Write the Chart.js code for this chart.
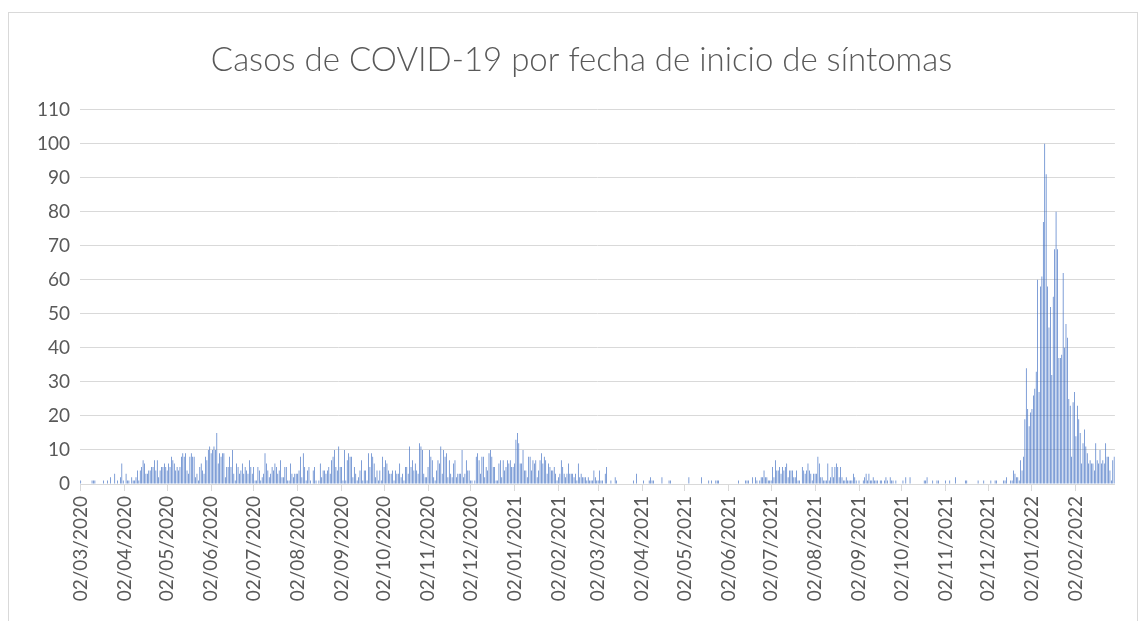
<!DOCTYPE html>
<html>
<head>
<meta charset="utf-8">
<script src="https://cdn.jsdelivr.net/npm/chart.js@4.4.1/dist/chart.umd.min.js"></script>
<style>
  html, body { margin: 0; padding: 0; background: #fff; }
  #frame { position: absolute; left: 8px; top: 12px; width: 1130px; height: 640px; border: 1px solid #d9d9d9; box-sizing: border-box; }
  #chart { position: absolute; left: 0; top: 0; }
</style>
</head>
<body>
<div id="frame"></div>
<canvas id="chart" width="1142" height="621"></canvas>
<script>
// daily cases, one array per month (first array starts on 02/03/2020)
const mar2020 = [1,0,0,0,0,0,0,0,1,1,1,0,0,0,0,0,1,0,0,1,0,2,0,0,3,0,1,0,2,6];
const apr2020 = [1,0,3,1,1,0,2,1,1,2,4,1,4,5,7,6,3,3,4,4,5,5,7,4,7,2,4,5,5,6];
const may2020 = [5,4,6,5,8,7,6,4,5,4,5,8,9,8,9,4,3,8,9,8,8,2,3,1,5,6,4,3,8,7,10];
const jun2020 = [11,9,10,11,10,15,6,9,8,9,9,2,5,5,8,5,10,3,1,6,5,3,4,6,3,5,4,3,7,5];
const jul2020 = [3,5,1,1,5,4,1,2,3,9,6,4,2,3,5,4,6,5,3,4,7,2,2,5,5,1,1,6,3,2,3];
const aug2020 = [3,3,4,8,2,9,5,1,4,5,1,0,4,5,1,0,1,6,2,4,4,3,4,5,3,7,8,10,5,4,11];
const sep2020 = [5,5,1,10,1,7,9,8,8,2,5,3,1,2,4,7,1,4,4,1,9,5,9,8,6,2,4,1,4,1];
const oct2020 = [8,5,7,6,4,3,3,4,1,4,3,3,6,2,3,1,5,5,3,11,5,7,4,6,4,3,12,11,10,3,2];
const nov2020 = [2,5,10,8,7,2,1,4,7,6,11,3,10,8,9,2,7,3,2,6,7,2,3,3,3,10,2,3,7,4];
const dec2020 = [4,1,1,0,1,8,9,7,3,8,8,2,5,4,9,10,8,5,5,1,1,6,7,2,7,4,5,7,6,7,5];
const jan2021 = [5,6,13,15,12,6,6,10,4,4,2,8,8,4,7,6,7,2,4,7,9,6,8,7,3,6,5,4,4,5,3];
const feb2021 = [1,2,3,7,5,3,2,3,6,3,3,3,2,3,1,6,2,3,2,2,2,1,2,1,1,1,4,2];
const mar2021 = [1,1,4,1,1,0,3,5,0,0,1,0,0,2,1,0,0,0,0,0,0,0,0,0,0,0,1,0,3,0,0];
const apr2021 = [0,0,1,0,0,0,1,2,1,1,0,0,0,0,0,2,0,0,0,0,1,1,0,0,0,0,0,0,0,0];
const may2021 = [0,0,0,0,2,0,0,0,0,0,0,0,0,2,0,0,0,0,1,0,1,0,0,1,1,1,0,0,0,0,0];
const jun2021 = [0,0,0,0,0,0,0,0,1,0,0,0,0,1,1,1,0,0,2,0,2,1,0,1,2,2,4,2,2,1];
const jul2021 = [1,1,5,2,7,4,4,5,3,5,4,5,6,2,4,4,4,2,2,4,1,1,0,5,4,3,4,6,4,3,1];
const aug2021 = [3,3,3,8,6,2,2,1,1,1,6,1,2,5,2,5,6,5,2,5,2,1,1,2,1,1,1,1,3,2,1];
const sep2021 = [0,1,0,0,1,2,3,1,3,1,1,2,1,1,1,0,1,1,0,1,2,1,0,2,1,1,0,1,0,0];
const oct2021 = [0,0,1,0,2,0,0,2,0,0,0,0,0,0,0,0,0,1,1,2,0,0,0,1,0,0,1,1,0,0,0];
const nov2021 = [0,1,0,0,1,0,0,0,2,0,0,0,0,0,0,1,1,0,0,0,0,0,0,0,1,0,0,0,1,0];
const dec2021 = [0,0,0,1,0,0,1,1,0,0,0,0,1,1,2,0,0,1,1,4,3,2,2,1,7,4,8,19,34,22,17];
const jan2022 = [21,22,26,28,33,60,27,58,61,77,100,91,58,46,52,32,55,69,80,69,37,37,38,62,40,47,43,25,23,8,24];
const feb2022 = [27,14,23,19,15,6,12,16,11,9,6,7,6,6,4,12,7,6,10,6,7,6,12,8,8,4,1,7];
const mar2022 = [8];

const monthTicks = [
  "02/03/2020", "02/04/2020", "02/05/2020", "02/06/2020", "02/07/2020", "02/08/2020",
  "02/09/2020", "02/10/2020", "02/11/2020", "02/12/2020", "02/01/2021", "02/02/2021",
  "02/03/2021", "02/04/2021", "02/05/2021", "02/06/2021", "02/07/2021", "02/08/2021",
  "02/09/2021", "02/10/2021", "02/11/2021", "02/12/2021", "02/01/2022", "02/02/2022"
];

const cases = [].concat(mar2020, apr2020, may2020, jun2020, jul2020, aug2020, sep2020,
  oct2020, nov2020, dec2020, jan2021, feb2021, mar2021, apr2021, may2021, jun2021,
  jul2021, aug2021, sep2021, oct2021, nov2021, dec2021, jan2022, feb2022, mar2022);

// one category per day
function pad(n) { return n < 10 ? "0" + n : "" + n; }
const days = [];
const day = new Date(2020, 2, 2);
for (let i = 0; i < cases.length; i++) {
  days.push(pad(day.getDate()) + "/" + pad(day.getMonth() + 1) + "/" + day.getFullYear());
  day.setDate(day.getDate() + 1);
}

const textColor = "#595959";
const lineColor = "#d9d9d9";
const tickFont = { family: "Lato", size: 19 };

function drawChart() {
  const ctx = document.getElementById("chart").getContext("2d");
  new Chart(ctx, {
    type: "bar",
    data: {
      labels: days,
      datasets: [{
        data: cases,
        backgroundColor: "#4472c4",
        barPercentage: 0.48,
        categoryPercentage: 1,
        inflateAmount: 0,
      }],
    },
    options: {
      responsive: false,
      animation: false,
      layout: { padding: { left: 36, right: 15, top: 41, bottom: 0 } },
      plugins: {
        legend: { display: false },
        tooltip: { enabled: false },
        title: {
          display: true,
          text: "Casos de COVID-19 por fecha de inicio de síntomas",
          color: textColor,
          font: { family: "Lato", size: 33, weight: 300 },
          padding: { top: 0, bottom: 29 },
        },
      },
      scales: {
        x: {
          offset: true,
          grid: {
            offset: false,
            drawOnChartArea: false,
            drawTicks: true,
            tickLength: 7,
            color: (c) => (monthTicks.includes(days[c.index]) ? lineColor : "rgba(0,0,0,0)"),
          },
          border: { display: true, color: lineColor },
          ticks: {
            autoSkip: false,
            maxRotation: 90,
            minRotation: 90,
            padding: 5,
            color: textColor,
            font: tickFont,
            callback: (v, i) => (monthTicks.includes(days[i]) ? days[i] : ""),
          },
          afterFit: (s) => { s.height = 137; },
        },
        y: {
          min: 0,
          max: 110,
          ticks: { stepSize: 10, color: textColor, font: tickFont, padding: 10 },
          grid: { color: lineColor, drawTicks: false },
          border: { display: false },
          afterFit: (s) => { s.width = 44; },
        },
      },
    },
  });
}

document.fonts.load("19px Lato").then(drawChart, drawChart);
</script>
</body>
</html>
